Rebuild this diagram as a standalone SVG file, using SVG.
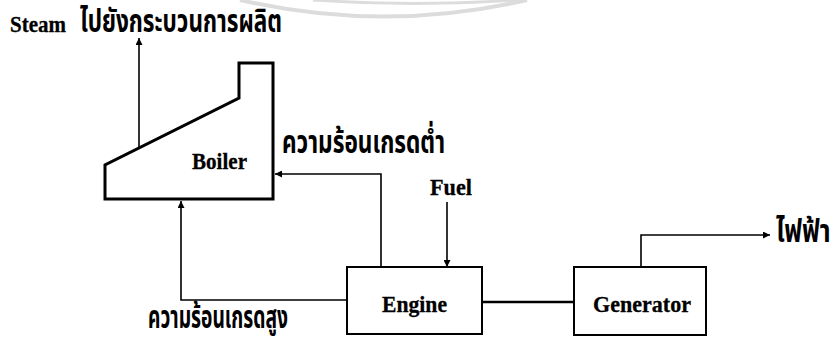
<svg xmlns="http://www.w3.org/2000/svg" width="839" height="341" viewBox="0 0 839 341">
<style>
.lbl{font-family:"Liberation Serif","Times New Roman",serif;font-weight:bold;font-size:23px;fill:#000;stroke:#000;stroke-width:0.3}
.th{font-family:"Noto Sans Thai","Loma","Garuda","Tlwg Typo","Noto Sans","DejaVu Sans",sans-serif;font-weight:bold;font-size:31px;fill:#000}
.conn{fill:none;stroke:#000;stroke-width:1.6}
.box{fill:#fff;stroke:#000;stroke-width:2}
.wm{fill:none;stroke:#dcdcdc}
</style>
<defs>
<marker id="ah" viewBox="0 0 10 10" refX="10" refY="5" markerWidth="9" markerHeight="7" markerUnits="userSpaceOnUse" orient="auto">
<path d="M0,0 L10,5 L0,10 z" fill="#000"/>
</marker>
</defs>
<rect width="839" height="341" fill="#fff"/>
<g id="watermark">
<path class="wm" stroke-width="4" d="M240,0 A640,640 0 0 0 527,0"/>
<path class="wm" stroke-width="3" d="M313,0 Q415,7 517,0"/>
</g>
<g id="connectors">
<path class="conn" d="M139,147 L139,38" marker-end="url(#ah)"/>
<path class="conn" d="M381,267 L381,174 L275,174" marker-end="url(#ah)"/>
<path class="conn" d="M347,300 L181,300 L181,201" marker-end="url(#ah)"/>
<path class="conn" d="M447,202 L447,267" marker-end="url(#ah)"/>
<path class="conn" d="M641,267 L641,235 L770,235" marker-end="url(#ah)"/>
<path fill="none" stroke="#000" stroke-width="2.5" d="M482,302 L574,302"/>
</g>
<g id="boiler">
<path fill="#fff" stroke="#000" stroke-width="3" stroke-linejoin="miter" d="M105,199 L105,165 L239,98 L239,63 L273,63 L273,199 Z"/>
<text class="lbl" x="192" y="169" textLength="55" lengthAdjust="spacingAndGlyphs">Boiler</text>
</g>
<g id="engine">
<rect class="box" x="347" y="267" width="135" height="67"/>
<text class="lbl" x="382" y="312" textLength="65" lengthAdjust="spacingAndGlyphs">Engine</text>
</g>
<g id="generator">
<rect class="box" x="574" y="267" width="132" height="68"/>
<text class="lbl" x="593" y="312" textLength="98" lengthAdjust="spacingAndGlyphs">Generator</text>
</g>
<g id="labels">
<text class="lbl" x="10" y="32" textLength="56" lengthAdjust="spacingAndGlyphs">Steam</text>
<text class="th" x="80" y="32" font-size="26" textLength="202" lengthAdjust="spacingAndGlyphs">ไปยังกระบวนการผลิต</text>
<text class="lbl" x="430" y="195" textLength="42" lengthAdjust="spacingAndGlyphs">Fuel</text>
<text class="th" x="282" y="153" textLength="163" lengthAdjust="spacingAndGlyphs">ความร้อนเกรดต่ำ</text>
<text class="th" x="148" y="328" font-size="26" textLength="140" lengthAdjust="spacingAndGlyphs">ความร้อนเกรดสูง</text>
<text class="th" transform="translate(776,242) scale(0.8,1)" x="0" y="0">ไฟฟ้า</text>
</g>
</svg>
